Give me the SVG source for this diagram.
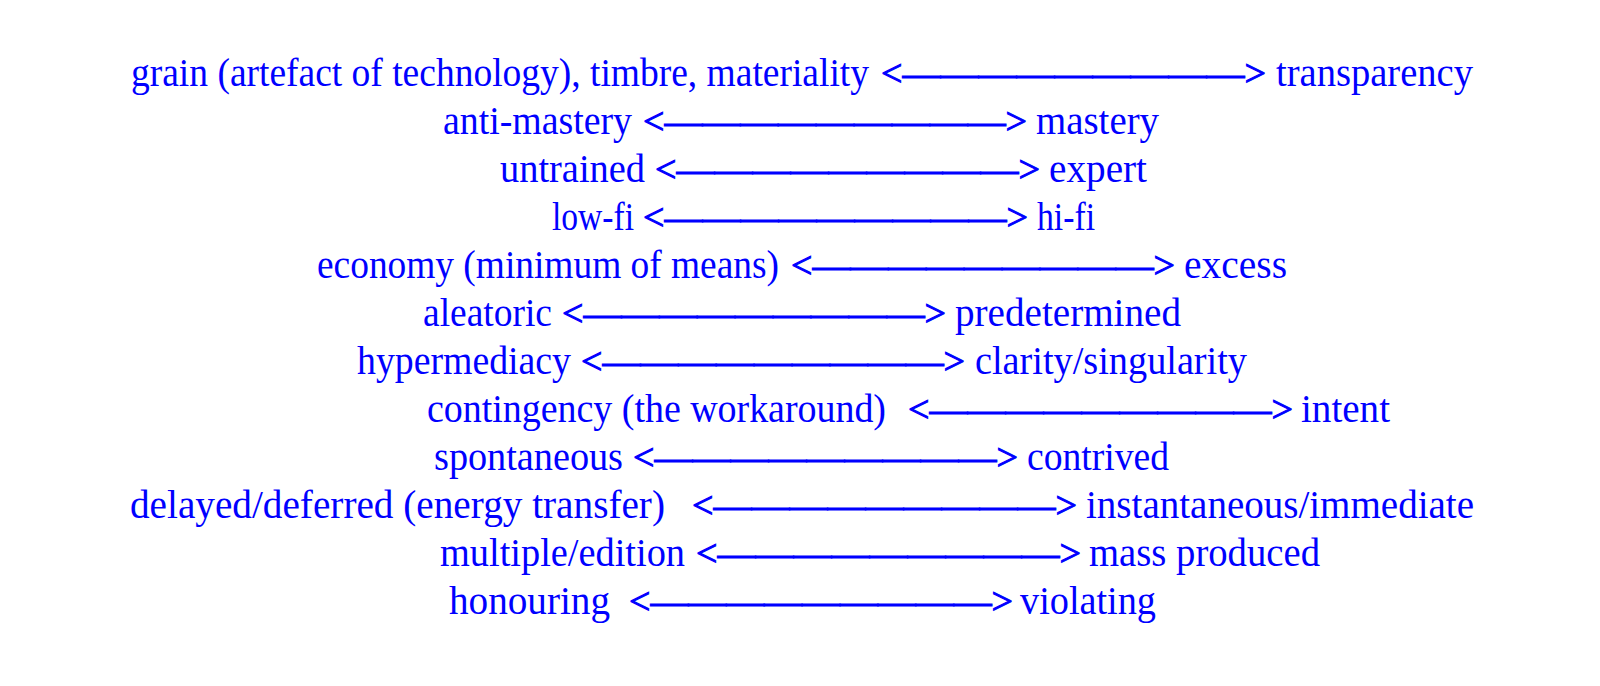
<svg xmlns="http://www.w3.org/2000/svg" width="1600" height="686" viewBox="0 0 1600 686">
<style>
text { font-family: "Liberation Serif", "Times New Roman", serif; font-size: 40px; fill: #0000FF; }
.arr { font-size: 38px; stroke: #0000FF; stroke-width: 1; }
</style>
<rect width="1600" height="686" fill="#FFFFFF"/>
<g id="n1"><text x="131" y="86" textLength="738" lengthAdjust="spacingAndGlyphs">grain (artefact of technology), timbre, materiality</text><text x="1276" y="86" textLength="197" lengthAdjust="spacingAndGlyphs">transparency</text></g>
<g id="n2"><text x="443" y="134" textLength="189" lengthAdjust="spacingAndGlyphs">anti-mastery</text><text x="1036" y="134" textLength="123" lengthAdjust="spacingAndGlyphs">mastery</text></g>
<g id="n3"><text x="500" y="182" textLength="145" lengthAdjust="spacingAndGlyphs">untrained</text><text x="1049" y="182" textLength="98" lengthAdjust="spacingAndGlyphs">expert</text></g>
<g id="n4"><text x="552" y="230" textLength="82" lengthAdjust="spacingAndGlyphs">low-fi</text><text x="1037" y="230" textLength="58" lengthAdjust="spacingAndGlyphs">hi-fi</text></g>
<g id="n5"><text x="317" y="278" textLength="462" lengthAdjust="spacingAndGlyphs">economy (minimum of means)</text><text x="1184" y="278" textLength="103" lengthAdjust="spacingAndGlyphs">excess</text></g>
<g id="n6"><text x="423" y="326" textLength="129" lengthAdjust="spacingAndGlyphs">aleatoric</text><text x="955" y="326" textLength="226" lengthAdjust="spacingAndGlyphs">predetermined</text></g>
<g id="n7"><text x="357" y="374" textLength="214" lengthAdjust="spacingAndGlyphs">hypermediacy</text><text x="975" y="374" textLength="272" lengthAdjust="spacingAndGlyphs">clarity/singularity</text></g>
<g id="n8"><text x="427" y="422" textLength="459" lengthAdjust="spacingAndGlyphs">contingency (the workaround)</text><text x="1301" y="422" textLength="89" lengthAdjust="spacingAndGlyphs">intent</text></g>
<g id="n9"><text x="434" y="470" textLength="189" lengthAdjust="spacingAndGlyphs">spontaneous</text><text x="1027" y="470" textLength="142" lengthAdjust="spacingAndGlyphs">contrived</text></g>
<g id="n10"><text x="130" y="518" textLength="535" lengthAdjust="spacingAndGlyphs">delayed/deferred (energy transfer)</text><text x="1086" y="518" textLength="388" lengthAdjust="spacingAndGlyphs">instantaneous/immediate</text></g>
<g id="n11"><text x="440" y="566" textLength="245" lengthAdjust="spacingAndGlyphs">multiple/edition</text><text x="1089" y="566" textLength="231" lengthAdjust="spacingAndGlyphs">mass produced</text></g>
<g id="n12"><text x="449" y="614" textLength="161" lengthAdjust="spacingAndGlyphs">honouring</text><text x="1020" y="614" textLength="136" lengthAdjust="spacingAndGlyphs">violating</text></g>
<g id="connectors">
<text class="arr" x="881" y="86" textLength="385" lengthAdjust="spacingAndGlyphs">&lt;—————————&gt;</text>
<text class="arr" x="643" y="134" textLength="384" lengthAdjust="spacingAndGlyphs">&lt;—————————&gt;</text>
<text class="arr" x="655" y="182" textLength="385" lengthAdjust="spacingAndGlyphs">&lt;—————————&gt;</text>
<text class="arr" x="643" y="230" textLength="385" lengthAdjust="spacingAndGlyphs">&lt;—————————&gt;</text>
<text class="arr" x="791" y="278" textLength="384" lengthAdjust="spacingAndGlyphs">&lt;—————————&gt;</text>
<text class="arr" x="562" y="326" textLength="384" lengthAdjust="spacingAndGlyphs">&lt;—————————&gt;</text>
<text class="arr" x="581" y="374" textLength="384" lengthAdjust="spacingAndGlyphs">&lt;—————————&gt;</text>
<text class="arr" x="908" y="422" textLength="385" lengthAdjust="spacingAndGlyphs">&lt;—————————&gt;</text>
<text class="arr" x="633" y="470" textLength="385" lengthAdjust="spacingAndGlyphs">&lt;—————————&gt;</text>
<text class="arr" x="692" y="518" textLength="385" lengthAdjust="spacingAndGlyphs">&lt;—————————&gt;</text>
<text class="arr" x="696" y="566" textLength="385" lengthAdjust="spacingAndGlyphs">&lt;—————————&gt;</text>
<text class="arr" x="629" y="614" textLength="384" lengthAdjust="spacingAndGlyphs">&lt;—————————&gt;</text>
</g>
</svg>
